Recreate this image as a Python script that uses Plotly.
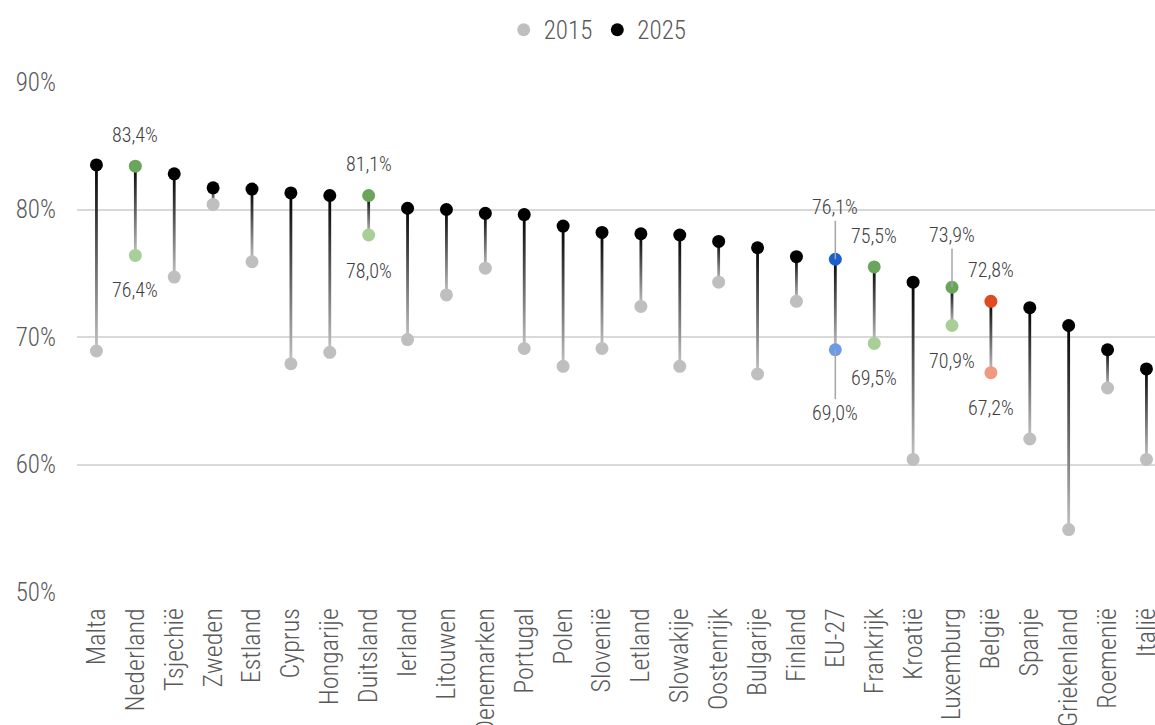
import plotly.graph_objects as go

countries = ["Malta", "Nederland", "Tsjechië", "Zweden", "Estland", "Cyprus", "Hongarije",
             "Duitsland", "Ierland", "Litouwen", "Denemarken", "Portugal", "Polen", "Slovenië",
             "Letland", "Slowakije", "Oostenrijk", "Bulgarije", "Finland", "EU-27", "Frankrijk",
             "Kroatië", "Luxemburg", "België", "Spanje", "Griekenland", "Roemenië", "Italië"]
v2015 = [68.9, 76.4, 74.7, 80.4, 75.9, 67.9, 68.8, 78.0, 69.8, 73.3, 75.4, 69.1, 67.7, 69.1,
         72.4, 67.7, 74.3, 67.1, 72.8, 69.0, 69.5, 60.4, 70.9, 67.2, 62.0, 54.9, 66.0, 60.4]
v2025 = [83.5, 83.4, 82.8, 81.7, 81.6, 81.3, 81.1, 81.1, 80.1, 80.0, 79.7, 79.6, 78.7, 78.2,
         78.1, 78.0, 77.5, 77.0, 76.3, 76.1, 75.5, 74.3, 73.9, 72.8, 72.3, 70.9, 69.0, 67.5]
y_ticks = [50, 60, 70, 80, 90]
y_tick_labels = ["50%", "60%", "70%", "80%", "90%"]

# highlight groups: (dark colour 2025, light colour 2015)
highlight = {
    "Nederland": ("#6aa55c", "#a8cf98"),
    "Duitsland": ("#6aa55c", "#a8cf98"),
    "Frankrijk": ("#6aa55c", "#a8cf98"),
    "Luxemburg": ("#6aa55c", "#a8cf98"),
    "EU-27": ("#1a5fcc", "#6b9ce8"),
    "België": ("#e04a22", "#ef9a80"),
}
# labelled points: (country, year, pixel shift, leader line)
labels = [
    ("Nederland", 2025, 31, False), ("Nederland", 2015, -35, False),
    ("Duitsland", 2025, 31, False), ("Duitsland", 2015, -36, False),
    ("EU-27", 2025, 52, True), ("EU-27", 2015, -63, True),
    ("Frankrijk", 2025, 31, False), ("Frankrijk", 2015, -35, False),
    ("Luxemburg", 2025, 52, True), ("Luxemburg", 2015, -35, False),
    ("België", 2025, 31, False), ("België", 2015, -35, False),
]

FONT = "Roboto Condensed, Noto Sans Condensed, Liberation Sans Narrow, DejaVu Sans Condensed, Noto Sans, sans-serif"
GRAY15 = "#bfbfbf"
HALF = 0.036

x_idx = list(range(len(countries)))
col15 = [highlight.get(c, (None, GRAY15))[1] for c in countries]
col25 = [highlight.get(c, ("#000000", None))[0] for c in countries]

fig = go.Figure()

for i, (lo, hi) in enumerate(zip(v2015, v2025)):
    fig.add_trace(go.Scatter(
        x=[i - HALF, i + HALF, i + HALF, i - HALF, i - HALF],
        y=[lo, lo, hi, hi, lo],
        mode="lines", fill="toself",
        line=dict(width=0, color="rgba(0,0,0,0)"),
        fillgradient=dict(type="vertical", colorscale=[[0, "#c4c4c4"], [1, "#000000"]],
                          start=lo, stop=hi),
        hoverinfo="skip", showlegend=False))

fig.add_trace(go.Scatter(x=x_idx, y=v2015, mode="markers", name="2015",
                         marker=dict(size=13, color=col15)))
fig.add_trace(go.Scatter(x=x_idx, y=v2025, mode="markers", name="2025",
                         marker=dict(size=13, color=col25)))

for c, yr, shift, leader in labels:
    i = countries.index(c)
    v = (v2025 if yr == 2025 else v2015)[i]
    txt = f"{v:.1f}".replace(".", ",") + "%"
    if leader:
        fig.add_annotation(x=i, y=v, text=txt, showarrow=True, arrowhead=0,
                           arrowwidth=1.5, arrowcolor="#a6a6a6", ax=0, ay=-shift,
                           standoff=0, font=dict(family=FONT, size=20, color="#404040", weight=300))
    else:
        fig.add_annotation(x=i, y=v, text=txt, showarrow=False, yshift=shift,
                           font=dict(family=FONT, size=20, color="#404040", weight=300))

fig.update_layout(
    width=1155, height=725,
    margin=dict(l=76.5, r=0, t=82, b=133, autoexpand=False),
    paper_bgcolor="white", plot_bgcolor="white",
    font=dict(family=FONT, color="#595959", size=25, weight=300),
    legend=dict(orientation="h", x=0.483, xanchor="center", y=1.102, yanchor="middle",
                font=dict(size=25, color="#595959", weight=300), itemwidth=30, tracegroupgap=0),
    showlegend=True,
)
fig.update_xaxes(range=[-0.5, 27.22], tickmode="array", tickvals=x_idx, ticktext=countries,
                 tickangle=-90, tickfont=dict(size=26, color="#595959", weight=300), showgrid=False,
                 zeroline=False, showline=False, ticklabelstandoff=10, automargin=False,
                 ticklabeloverflow="allow")
fig.update_yaxes(range=[50, 90], tickmode="array", tickvals=y_ticks, ticktext=y_tick_labels,
                 showgrid=True, gridcolor="#d9d9d9", gridwidth=1.5, zeroline=False,
                 tickfont=dict(size=25, color="#595959", weight=300), ticklabelstandoff=20,
                 automargin=False)

fig.write_html("out.html", config={"displayModeBar": False},
               post_script="document.body.style.margin='0';document.body.style.overflow='hidden';")
